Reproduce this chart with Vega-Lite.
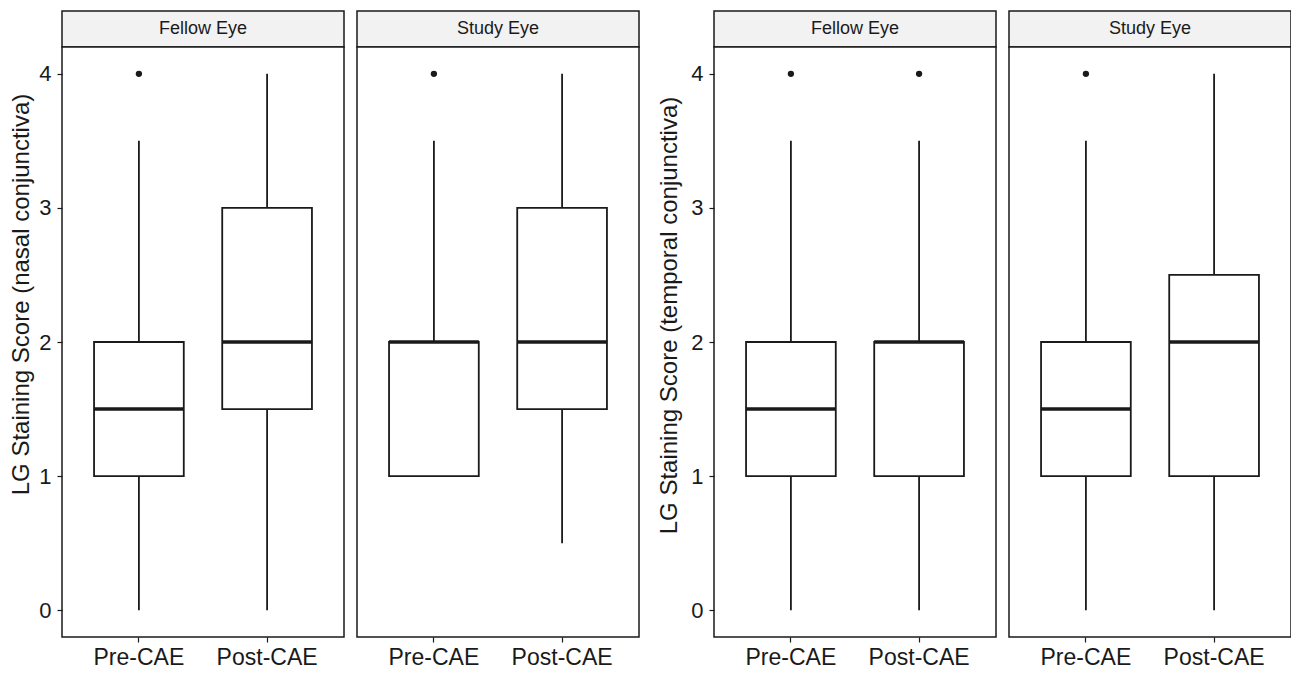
{
  "$schema": "https://vega.github.io/schema/vega-lite/v6.json",
  "padding": {"left": 9, "top": 10, "right": 0, "bottom": 0},
  "background": "white",
  "config": {"font": "Liberation Sans", "axis": {"grid": false}},
  "datasets": {
    "boxes": [
      {"measure": "nasal", "eye": "Fellow Eye", "time": "Pre-CAE", "lower": 0, "q1": 1, "median": 1.5, "q3": 2, "upper": 3.5},
      {"measure": "nasal", "eye": "Fellow Eye", "time": "Post-CAE", "lower": 0, "q1": 1.5, "median": 2, "q3": 3, "upper": 4},
      {"measure": "nasal", "eye": "Study Eye", "time": "Pre-CAE", "lower": 1, "q1": 1, "median": 2, "q3": 2, "upper": 3.5},
      {"measure": "nasal", "eye": "Study Eye", "time": "Post-CAE", "lower": 0.5, "q1": 1.5, "median": 2, "q3": 3, "upper": 4},
      {"measure": "temporal", "eye": "Fellow Eye", "time": "Pre-CAE", "lower": 0, "q1": 1, "median": 1.5, "q3": 2, "upper": 3.5},
      {"measure": "temporal", "eye": "Fellow Eye", "time": "Post-CAE", "lower": 0, "q1": 1, "median": 2, "q3": 2, "upper": 3.5},
      {"measure": "temporal", "eye": "Study Eye", "time": "Pre-CAE", "lower": 0, "q1": 1, "median": 1.5, "q3": 2, "upper": 3.5},
      {"measure": "temporal", "eye": "Study Eye", "time": "Post-CAE", "lower": 0, "q1": 1, "median": 2, "q3": 2.5, "upper": 4}
    ],
    "outliers": [
      {"measure": "nasal", "eye": "Fellow Eye", "time": "Pre-CAE", "value": 4},
      {"measure": "nasal", "eye": "Study Eye", "time": "Pre-CAE", "value": 4},
      {"measure": "temporal", "eye": "Fellow Eye", "time": "Pre-CAE", "value": 4},
      {"measure": "temporal", "eye": "Fellow Eye", "time": "Post-CAE", "value": 4},
      {"measure": "temporal", "eye": "Study Eye", "time": "Pre-CAE", "value": 4}
    ]
  },
  "spacing": 17,
  "hconcat": [
    {
      "spacing": 11,
      "hconcat": [
        {
          "bounds": "flush",
          "spacing": 0,
          "vconcat": [
            {
              "width": 282, "height": 36,
              "data": {"values": [{"eye": "Fellow Eye"}]},
              "view": {"fill": "#F2F2F2", "stroke": "#1a1a1a", "strokeWidth": 1.5},
              "mark": {"type": "text", "fontSize": 18, "color": "#1a1a1a", "baseline": "middle", "align": "center"},
              "encoding": {"text": {"field": "eye"}}
            },
            {
              "width": 282, "height": 590,
              "view": {"fill": "white", "stroke": "#1a1a1a", "strokeWidth": 1.5},
              "encoding": {
                "x": {"field": "time", "type": "nominal", "sort": ["Pre-CAE", "Post-CAE"],
                  "scale": {"domain": ["Pre-CAE", "Post-CAE"], "paddingInner": 0.3, "paddingOuter": 0.25},
                  "axis": {"title": null, "domain": false, "tickSize": 5, "tickColor": "#1a1a1a", "tickWidth": 1.2, "labelFontSize": 23, "labelColor": "#1a1a1a", "labelPadding": 4, "labelAngle": 0}}
              },
              "layer": [
                {
                  "data": {"name": "boxes"},
                  "transform": [{"filter": "datum.measure === 'nasal' && datum.eye === 'Fellow Eye'"}],
                  "mark": {"type": "rule", "color": "#1a1a1a", "strokeWidth": 1.8},
                  "encoding": {
                    "y": {"field": "lower", "type": "quantitative", "title": "LG Staining Score (nasal conjunctiva)",
                      "scale": {"domain": [-0.2, 4.2], "nice": false, "zero": false},
                      "axis": {"values": [0, 1, 2, 3, 4], "format": "d", "domain": false, "tickSize": 5, "tickColor": "#1a1a1a", "tickWidth": 1.2, "labelFontSize": 22, "labelColor": "#1a1a1a", "labelPadding": 6, "titleFontSize": 24, "titleFontWeight": "normal", "titleColor": "#1a1a1a", "titlePadding": 5, "titleY": 247}},
                    "y2": {"field": "upper"}
                  }
                },
                {
                  "data": {"name": "boxes"},
                  "transform": [{"filter": "datum.measure === 'nasal' && datum.eye === 'Fellow Eye'"}],
                  "mark": {"type": "bar", "fill": "white", "stroke": "#1a1a1a", "strokeWidth": 1.8},
                  "encoding": {
                    "y": {"field": "q1", "type": "quantitative", "title": "LG Staining Score (nasal conjunctiva)"},
                    "y2": {"field": "q3"}
                  }
                },
                {
                  "data": {"name": "boxes"},
                  "transform": [{"filter": "datum.measure === 'nasal' && datum.eye === 'Fellow Eye'"}],
                  "mark": {"type": "tick", "color": "#1a1a1a", "thickness": 3.5, "size": 90, "opacity": 1},
                  "encoding": {
                    "y": {"field": "median", "type": "quantitative", "title": "LG Staining Score (nasal conjunctiva)"}
                  }
                },
                {
                  "data": {"name": "outliers"},
                  "transform": [{"filter": "datum.measure === 'nasal' && datum.eye === 'Fellow Eye'"}],
                  "mark": {"type": "point", "filled": true, "color": "#1a1a1a", "size": 40, "opacity": 1},
                  "encoding": {
                    "y": {"field": "value", "type": "quantitative", "title": "LG Staining Score (nasal conjunctiva)"}
                  }
                }
              ]
            }
          ]
        },
        {
          "bounds": "flush",
          "spacing": 0,
          "vconcat": [
            {
              "width": 282, "height": 36,
              "data": {"values": [{"eye": "Study Eye"}]},
              "view": {"fill": "#F2F2F2", "stroke": "#1a1a1a", "strokeWidth": 1.5},
              "mark": {"type": "text", "fontSize": 18, "color": "#1a1a1a", "baseline": "middle", "align": "center"},
              "encoding": {"text": {"field": "eye"}}
            },
            {
              "width": 282, "height": 590,
              "view": {"fill": "white", "stroke": "#1a1a1a", "strokeWidth": 1.5},
              "encoding": {
                "x": {"field": "time", "type": "nominal", "sort": ["Pre-CAE", "Post-CAE"],
                  "scale": {"domain": ["Pre-CAE", "Post-CAE"], "paddingInner": 0.3, "paddingOuter": 0.25},
                  "axis": {"title": null, "domain": false, "tickSize": 5, "tickColor": "#1a1a1a", "tickWidth": 1.2, "labelFontSize": 23, "labelColor": "#1a1a1a", "labelPadding": 4, "labelAngle": 0}}
              },
              "layer": [
                {
                  "data": {"name": "boxes"},
                  "transform": [{"filter": "datum.measure === 'nasal' && datum.eye === 'Study Eye'"}],
                  "mark": {"type": "rule", "color": "#1a1a1a", "strokeWidth": 1.8},
                  "encoding": {
                    "y": {"field": "lower", "type": "quantitative", "scale": {"domain": [-0.2, 4.2], "nice": false, "zero": false}, "axis": null},
                    "y2": {"field": "upper"}
                  }
                },
                {
                  "data": {"name": "boxes"},
                  "transform": [{"filter": "datum.measure === 'nasal' && datum.eye === 'Study Eye'"}],
                  "mark": {"type": "bar", "fill": "white", "stroke": "#1a1a1a", "strokeWidth": 1.8},
                  "encoding": {
                    "y": {"field": "q1", "type": "quantitative", "axis": null},
                    "y2": {"field": "q3"}
                  }
                },
                {
                  "data": {"name": "boxes"},
                  "transform": [{"filter": "datum.measure === 'nasal' && datum.eye === 'Study Eye'"}],
                  "mark": {"type": "tick", "color": "#1a1a1a", "thickness": 3.5, "size": 90, "opacity": 1},
                  "encoding": {"y": {"field": "median", "type": "quantitative", "axis": null}}
                },
                {
                  "data": {"name": "outliers"},
                  "transform": [{"filter": "datum.measure === 'nasal' && datum.eye === 'Study Eye'"}],
                  "mark": {"type": "point", "filled": true, "color": "#1a1a1a", "size": 40, "opacity": 1},
                  "encoding": {"y": {"field": "value", "type": "quantitative", "axis": null}}
                }
              ]
            }
          ]
        }
      ]
    },
    {
      "spacing": 11,
      "hconcat": [
        {
          "bounds": "flush",
          "spacing": 0,
          "vconcat": [
            {
              "width": 282, "height": 36,
              "data": {"values": [{"eye": "Fellow Eye"}]},
              "view": {"fill": "#F2F2F2", "stroke": "#1a1a1a", "strokeWidth": 1.5},
              "mark": {"type": "text", "fontSize": 18, "color": "#1a1a1a", "baseline": "middle", "align": "center"},
              "encoding": {"text": {"field": "eye"}}
            },
            {
              "width": 282, "height": 590,
              "view": {"fill": "white", "stroke": "#1a1a1a", "strokeWidth": 1.5},
              "encoding": {
                "x": {"field": "time", "type": "nominal", "sort": ["Pre-CAE", "Post-CAE"],
                  "scale": {"domain": ["Pre-CAE", "Post-CAE"], "paddingInner": 0.3, "paddingOuter": 0.25},
                  "axis": {"title": null, "domain": false, "tickSize": 5, "tickColor": "#1a1a1a", "tickWidth": 1.2, "labelFontSize": 23, "labelColor": "#1a1a1a", "labelPadding": 4, "labelAngle": 0}}
              },
              "layer": [
                {
                  "data": {"name": "boxes"},
                  "transform": [{"filter": "datum.measure === 'temporal' && datum.eye === 'Fellow Eye'"}],
                  "mark": {"type": "rule", "color": "#1a1a1a", "strokeWidth": 1.8},
                  "encoding": {
                    "y": {"field": "lower", "type": "quantitative", "title": "LG Staining Score (temporal conjunctiva)",
                      "scale": {"domain": [-0.2, 4.2], "nice": false, "zero": false},
                      "axis": {"values": [0, 1, 2, 3, 4], "format": "d", "domain": false, "tickSize": 5, "tickColor": "#1a1a1a", "tickWidth": 1.2, "labelFontSize": 22, "labelColor": "#1a1a1a", "labelPadding": 6, "titleFontSize": 24, "titleFontWeight": "normal", "titleColor": "#1a1a1a", "titlePadding": 9, "titleY": 268}},
                    "y2": {"field": "upper"}
                  }
                },
                {
                  "data": {"name": "boxes"},
                  "transform": [{"filter": "datum.measure === 'temporal' && datum.eye === 'Fellow Eye'"}],
                  "mark": {"type": "bar", "fill": "white", "stroke": "#1a1a1a", "strokeWidth": 1.8},
                  "encoding": {
                    "y": {"field": "q1", "type": "quantitative", "title": "LG Staining Score (temporal conjunctiva)"},
                    "y2": {"field": "q3"}
                  }
                },
                {
                  "data": {"name": "boxes"},
                  "transform": [{"filter": "datum.measure === 'temporal' && datum.eye === 'Fellow Eye'"}],
                  "mark": {"type": "tick", "color": "#1a1a1a", "thickness": 3.5, "size": 90, "opacity": 1},
                  "encoding": {"y": {"field": "median", "type": "quantitative", "title": "LG Staining Score (temporal conjunctiva)"}}
                },
                {
                  "data": {"name": "outliers"},
                  "transform": [{"filter": "datum.measure === 'temporal' && datum.eye === 'Fellow Eye'"}],
                  "mark": {"type": "point", "filled": true, "color": "#1a1a1a", "size": 40, "opacity": 1},
                  "encoding": {"y": {"field": "value", "type": "quantitative", "title": "LG Staining Score (temporal conjunctiva)"}}
                }
              ]
            }
          ]
        },
        {
          "bounds": "flush",
          "spacing": 0,
          "vconcat": [
            {
              "width": 282, "height": 36,
              "data": {"values": [{"eye": "Study Eye"}]},
              "view": {"fill": "#F2F2F2", "stroke": "#1a1a1a", "strokeWidth": 1.5},
              "mark": {"type": "text", "fontSize": 18, "color": "#1a1a1a", "baseline": "middle", "align": "center"},
              "encoding": {"text": {"field": "eye"}}
            },
            {
              "width": 282, "height": 590,
              "view": {"fill": "white", "stroke": "#1a1a1a", "strokeWidth": 1.5},
              "encoding": {
                "x": {"field": "time", "type": "nominal", "sort": ["Pre-CAE", "Post-CAE"],
                  "scale": {"domain": ["Pre-CAE", "Post-CAE"], "paddingInner": 0.3, "paddingOuter": 0.25},
                  "axis": {"title": null, "domain": false, "tickSize": 5, "tickColor": "#1a1a1a", "tickWidth": 1.2, "labelFontSize": 23, "labelColor": "#1a1a1a", "labelPadding": 4, "labelAngle": 0}}
              },
              "layer": [
                {
                  "data": {"name": "boxes"},
                  "transform": [{"filter": "datum.measure === 'temporal' && datum.eye === 'Study Eye'"}],
                  "mark": {"type": "rule", "color": "#1a1a1a", "strokeWidth": 1.8},
                  "encoding": {
                    "y": {"field": "lower", "type": "quantitative", "scale": {"domain": [-0.2, 4.2], "nice": false, "zero": false}, "axis": null},
                    "y2": {"field": "upper"}
                  }
                },
                {
                  "data": {"name": "boxes"},
                  "transform": [{"filter": "datum.measure === 'temporal' && datum.eye === 'Study Eye'"}],
                  "mark": {"type": "bar", "fill": "white", "stroke": "#1a1a1a", "strokeWidth": 1.8},
                  "encoding": {
                    "y": {"field": "q1", "type": "quantitative", "axis": null},
                    "y2": {"field": "q3"}
                  }
                },
                {
                  "data": {"name": "boxes"},
                  "transform": [{"filter": "datum.measure === 'temporal' && datum.eye === 'Study Eye'"}],
                  "mark": {"type": "tick", "color": "#1a1a1a", "thickness": 3.5, "size": 90, "opacity": 1},
                  "encoding": {"y": {"field": "median", "type": "quantitative", "axis": null}}
                },
                {
                  "data": {"name": "outliers"},
                  "transform": [{"filter": "datum.measure === 'temporal' && datum.eye === 'Study Eye'"}],
                  "mark": {"type": "point", "filled": true, "color": "#1a1a1a", "size": 40, "opacity": 1},
                  "encoding": {"y": {"field": "value", "type": "quantitative", "axis": null}}
                }
              ]
            }
          ]
        }
      ]
    }
  ]
}
